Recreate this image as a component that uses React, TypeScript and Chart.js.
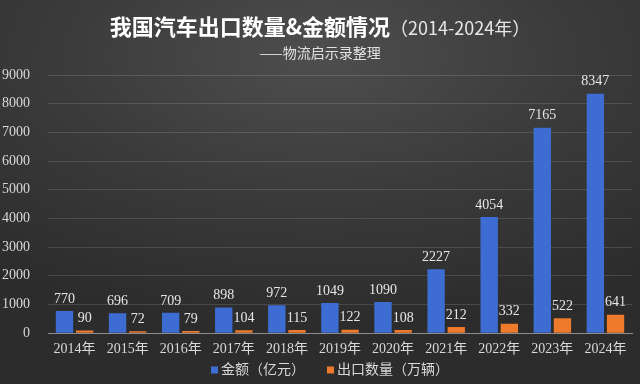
import React, { useEffect, useRef } from "react";
import { Chart, registerables } from "chart.js";

Chart.register(...registerables);

const categories = ["2014年", "2015年", "2016年", "2017年", "2018年", "2019年", "2020年", "2021年", "2022年", "2023年", "2024年"];
const amountValues = [770, 696, 709, 898, 972, 1049, 1090, 2227, 4054, 7165, 8347];
const volumeValues = [90, 72, 79, 104, 115, 122, 108, 212, 332, 522, 641];
const seriesNames = ["金额（亿元）", "出口数量（万辆）"];
const seriesColors = ["#3d6dd3", "#ee7a2c"];
const titleMain = "我国汽车出口数量&金额情况";
const titleYears = "（2014-2024年）";
const subtitleText = "——物流启示录整理";

const SERIF = "'Liberation Serif', 'Noto Sans CJK SC', serif";
const SANS = "'Noto Sans CJK SC', 'Noto Sans', sans-serif";

const titlePlugin = {
  id: "customTitle",
  afterDraw(chart: any) {
    const ctx = chart.ctx;
    ctx.save();
    ctx.textBaseline = "middle";
    ctx.fillStyle = "#ffffff";
    const boldFont = `bold 22px ${SANS}`;
    const lightFont = `18px ${SANS}`;
    ctx.font = boldFont;
    const w1 = ctx.measureText(titleMain).width;
    ctx.font = lightFont;
    const w2 = ctx.measureText(titleYears).width;
    const cx = chart.width / 2;
    const start = cx - (w1 + w2) / 2;
    ctx.textAlign = "left";
    ctx.font = boldFont;
    ctx.fillText(titleMain, start, 27);
    ctx.font = lightFont;
    ctx.fillStyle = "#e6e6e6";
    ctx.fillText(titleYears, start + w1, 28);
    ctx.font = `14px ${SANS}`;
    ctx.textAlign = "center";
    ctx.fillStyle = "#e0e0e0";
    ctx.fillText(subtitleText, cx, 53);
    ctx.restore();
  },
};

const legendPlugin = {
  id: "customLegend",
  afterDraw(chart: any) {
    const ctx = chart.ctx;
    ctx.save();
    ctx.font = `14px ${SERIF}`;
    ctx.textBaseline = "middle";
    ctx.textAlign = "left";
    const box = 7;
    const gapBoxText = 3;
    const gapItems = 22;
    const widths = chart.data.datasets.map((ds: any) => ctx.measureText(ds.label).width);
    const total = widths.reduce((a: number, w: number) => a + box + gapBoxText + w, 0) + gapItems * (widths.length - 1);
    let x = chart.width / 2 - total / 2 + 10;
    const y = 370;
    chart.data.datasets.forEach((ds: any, i: number) => {
      ctx.fillStyle = ds.backgroundColor;
      ctx.fillRect(x, y - box / 2, box, box);
      x += box + gapBoxText;
      ctx.fillStyle = "#d9d9d9";
      ctx.fillText(ds.label, x, y);
      x += widths[i] + gapItems;
    });
    ctx.restore();
  },
};

const valueLabelPlugin = {
  id: "valueLabels",
  afterDatasetsDraw(chart: any) {
    const ctx = chart.ctx;
    ctx.save();
    ctx.font = `14px ${SERIF}`;
    ctx.fillStyle = "#e6e6e6";
    ctx.textAlign = "center";
    ctx.textBaseline = "bottom";
    chart.data.datasets.forEach((ds: any, di: number) => {
      const meta = chart.getDatasetMeta(di);
      meta.data.forEach((el: any, i: number) => {
        ctx.fillText(String(ds.data[i]), el.x, el.y - 5);
      });
    });
    ctx.restore();
  },
};

export default function App() {
  const canvasRef = useRef<HTMLCanvasElement | null>(null);

  useEffect(() => {
    document.body.style.margin = "0";
    const canvas = canvasRef.current;
    if (!canvas) return;
    const chart = new Chart(canvas, {
      type: "bar",
      data: {
        labels: categories,
        datasets: [
          {
            label: seriesNames[0],
            data: amountValues,
            backgroundColor: seriesColors[0],
            borderWidth: 0,
            categoryPercentage: 0.76,
            barPercentage: 0.86,
          },
          {
            label: seriesNames[1],
            data: volumeValues,
            backgroundColor: seriesColors[1],
            borderWidth: 0,
            categoryPercentage: 0.76,
            barPercentage: 0.86,
          },
        ],
      },
      options: {
        animation: false,
        responsive: false,
        maintainAspectRatio: false,
        layout: { padding: { top: 75, right: 8, left: 0, bottom: 18 } },
        plugins: {
          title: { display: false },
          tooltip: { enabled: false },
          legend: { display: false },
        },
        scales: {
          x: {
            grid: { display: false, drawTicks: false },
            border: { display: true, color: "#8c8c8c", width: 1 },
            ticks: { color: "#d9d9d9", font: { family: SERIF, size: 14 }, padding: 8, maxRotation: 0, autoSkip: false },
          },
          y: {
            min: 0,
            max: 9000,
            afterFit(scale: any) {
              scale.width = 48;
            },
            grid: { color: "rgba(255,255,255,0.13)", drawTicks: false },
            border: { display: false },
            ticks: {
              stepSize: 1000,
              color: "#d9d9d9",
              font: { family: SERIF, size: 14 },
              padding: 18,
              callback: (v: any) => String(v),
            },
          },
        },
      },
      plugins: [titlePlugin, valueLabelPlugin, legendPlugin],
    });
    return () => chart.destroy();
  }, []);

  return (
    <div
      style={{
        width: 640,
        height: 384,
        background: "radial-gradient(ellipse 80% 70% at 50% 15%, #4e4e4e 0%, #3b3b3b 50%, #2c2c2c 100%)",
        position: "relative",
      }}
    >
      <canvas ref={canvasRef} width={640} height={384} style={{ display: "block" }} />
    </div>
  );
}
